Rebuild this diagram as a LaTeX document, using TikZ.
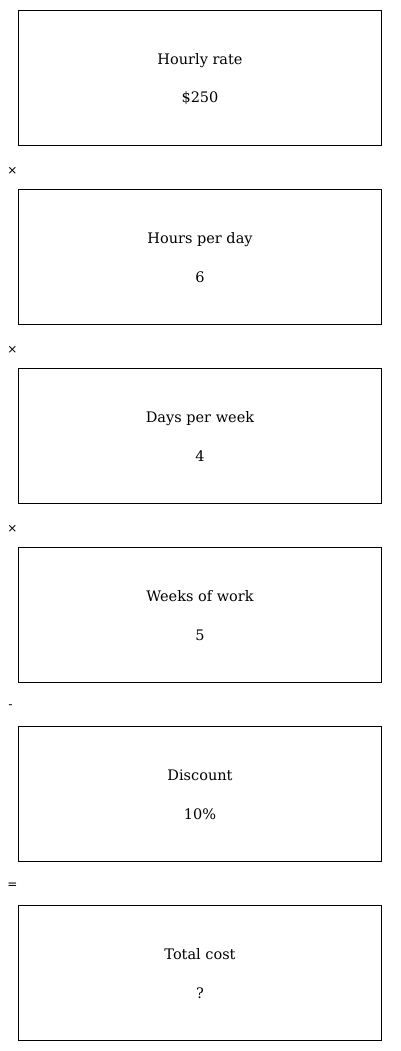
\documentclass[tikz,border=0pt]{standalone}
\usepackage{fontspec}
\setmainfont{DejaVu Serif}
\newfontfamily\opfont{DejaVu Sans}
\begin{document}
\begin{tikzpicture}[x=1pt,y=-1pt,
  box/.style={draw=black, line width=1pt, minimum width=363pt, minimum height=135pt, inner sep=0pt},
  lbl/.style={font=\fontsize{14.5}{17}\selectfont, anchor=base, inner sep=0pt},
  op/.style={font=\opfont\fontsize{12}{14}\selectfont, anchor=center}]
\useasboundingbox (0,0) rectangle (400,1051);
\foreach \i/\t/\v in {0/Hourly rate/\$250, 1/Hours per day/6, 2/Days per week/4, 3/Weeks of work/5, 4/Discount/10\%, 5/Total cost/?} {
  \node[box] (b\i) at (200, 78+179*\i) {};
  \node[lbl] (t\i) at (200, 64.5+179*\i) {\t};
  \node[lbl] (v\i) at (200, 103+179*\i) {\v};
}
\node[op] (o1) at (12.5,170.5) {×};
\node[op] (o2) at (12.5,349.5) {×};
\node[op] (o3) at (12.5,528.5) {×};
\node[op] (o4) at (10.5,706.5) {-};
\node[op] (o5) at (12.5,885.5) {=};
\end{tikzpicture}
\end{document}
